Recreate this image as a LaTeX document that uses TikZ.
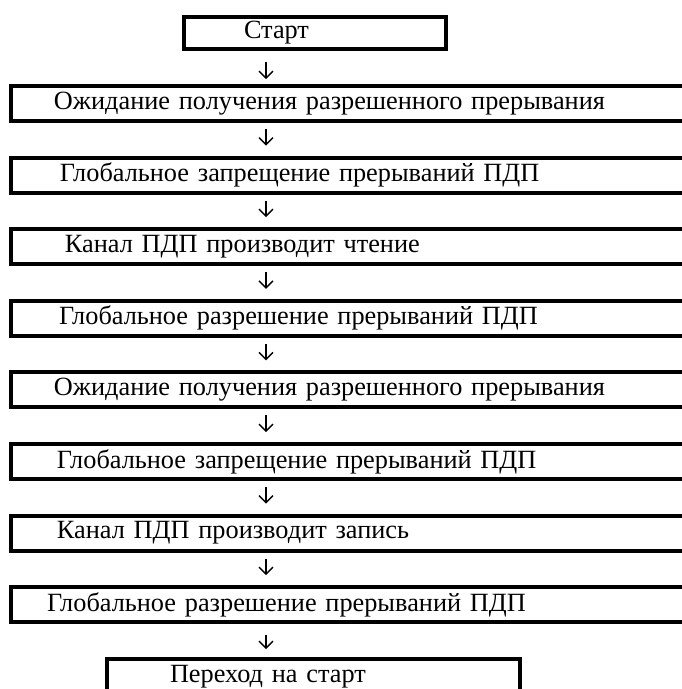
\documentclass[tikz,border=0pt]{standalone}
\usepackage{fontspec}
\setmainfont{Liberation Serif}
\usetikzlibrary{arrows.meta,positioning}

\begin{document}
\begin{tikzpicture}[x=1pt,y=-1pt,>={Straight Barb[length=7pt,width=14pt]}]
\tikzstyle{S}=[draw,line width=4pt,minimum height=35pt,inner sep=0pt,align=left,anchor=west,font=\fontsize{26.3}{26}\selectfont]
\tikzstyle{go}=[->,line width=1.4pt,shorten <=6pt,shorten >=10pt]
\useasboundingbox (0,0) rectangle (681,689);
\coordinate (ax) at (266,0);
% start and end boxes
\node[S,text width=262pt,minimum height=32pt] (st) at (182,33) {\hspace*{60pt}Старт};
\node[S,text width=413pt] (back) at (105,676.5) {\hspace*{63pt}Переход на старт};
% the steps, all left-aligned and running off to the right
\node[S,text width=700pt] (s1) at (9,103.5) {\hspace*{43pt}Ожидание получения разрешенного прерывания};
\node[S,text width=700pt] (s2) at (9,175.1) {\hspace*{49pt}Глобальное запрещение прерываний ПДП};
\node[S,text width=700pt] (s3) at (9,246.7) {\hspace*{54pt}Канал ПДП производит чтение};
\node[S,text width=700pt] (s4) at (9,318.3) {\hspace*{48pt}Глобальное разрешение прерываний ПДП};
\node[S,text width=700pt] (s5) at (9,389.9) {\hspace*{43pt}Ожидание получения разрешенного прерывания};
\node[S,text width=700pt] (s6) at (9,461.5) {\hspace*{46pt}Глобальное запрещение прерываний ПДП};
\node[S,text width=700pt] (s7) at (9,533.1) {\hspace*{46pt}Канал ПДП производит запись};
\node[S,text width=700pt] (s8) at (9,604.7) {\hspace*{36pt}Глобальное разрешение прерываний ПДП};
\draw[go,shorten <=11pt,shorten >=5pt] (st.south -| ax) -- (s1.north -| ax);
\draw[go] (s1.south -| ax) -- (s2.north -| ax);
\draw[go] (s2.south -| ax) -- (s3.north -| ax);
\draw[go] (s3.south -| ax) -- (s4.north -| ax);
\draw[go] (s4.south -| ax) -- (s5.north -| ax);
\draw[go] (s5.south -| ax) -- (s6.north -| ax);
\draw[go] (s6.south -| ax) -- (s7.north -| ax);
\draw[go] (s7.south -| ax) -- (s8.north -| ax);
\draw[go,shorten <=11pt,shorten >=8pt] (s8.south -| ax) -- (back.north -| ax);
\end{tikzpicture}
\end{document}
